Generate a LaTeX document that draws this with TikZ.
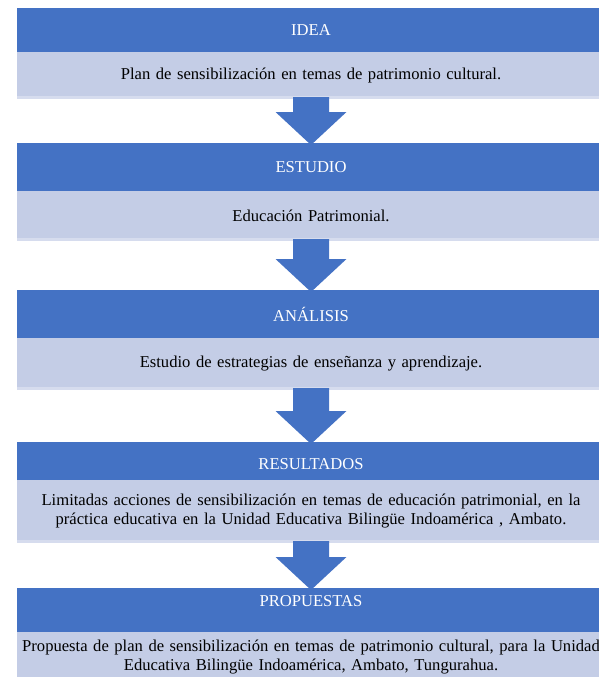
\documentclass[tikz,border=0pt]{standalone}
\usepackage{fontspec}
\setmainfont{Liberation Serif}
\usetikzlibrary{calc}
\definecolor{hdr}{RGB}{68,114,196}
\definecolor{band}{RGB}{196,205,230}
\definecolor{bandlo}{RGB}{214,220,238}
\newcommand\blockarrow[2]{%
  \fill[hdr] ($(#1.south)+(-18,-2)$) -- ($(#1.south)+(18,-2)$)
    -- ($(#2.north)+(18,-31)$) -- ($(#2.north)+(35.5,-31)$)
    -- ($(#2.north)+(0,2)$) -- ($(#2.north)+(-35.5,-31)$)
    -- ($(#2.north)+(-18,-31)$) -- cycle;}
\begin{document}
\begin{tikzpicture}[x=1pt,y=-1pt,
  txt/.style={font=\fontsize{16.6}{19}\selectfont},
  hdrbox/.style={txt,fill=hdr,text=white,minimum width=588,inner sep=0,outer sep=0,anchor=north west},
  bandbox/.style={txt,fill=band,text=black,minimum width=588,inner sep=0,outer sep=0,anchor=north west,align=center,text width=588}]
\useasboundingbox (0,0) rectangle (599,677);
% headers
\node[hdrbox,minimum height=44] (h1) at (17,8) {IDEA};
\node[bandbox,minimum height=47] (l1) at (17,52) {Plan de sensibilización en temas de patrimonio cultural.};
\node[hdrbox,minimum height=48] (h2) at (17,143) {ESTUDIO};
\node[bandbox,minimum height=50] (l2) at (17,191) {Educación Patrimonial.};
\node[hdrbox,minimum height=48] (h3) at (17,290) {ANÁLISIS};
\node[bandbox,minimum height=52] (l3) at (17,338) {Estudio de estrategias de enseñanza y aprendizaje.};
\node[hdrbox,minimum height=38,text height=17,text depth=0] (h4) at (17,442) {RESULTADOS};
\node[bandbox,minimum height=63] (l4) at (17,480) {Limitadas acciones de sensibilización en temas de educación patrimonial, en la\\práctica educativa en la Unidad Educativa Bilingüe Indoamérica , Ambato.};
\node[hdrbox,minimum height=44,text height=11.5,text depth=19.5] (h5) at (17,588) {PROPUESTAS};
\node[bandbox,minimum height=50] (l5) at (17,632) {Propuesta de plan de sensibilización en temas de patrimonio cultural, para la Unidad\\Educativa Bilingüe Indoamérica, Ambato, Tungurahua.};
% lighter bottom strips
\foreach \b in {l1,l2,l3,l4}{\fill[bandlo] ($(\b.south west)+(0,-3)$) rectangle (\b.south east);}
% arrows
\blockarrow{l1}{h2}
\blockarrow{l2}{h3}
\blockarrow{l3}{h4}
\blockarrow{l4}{h5}
\end{tikzpicture}
\end{document}
